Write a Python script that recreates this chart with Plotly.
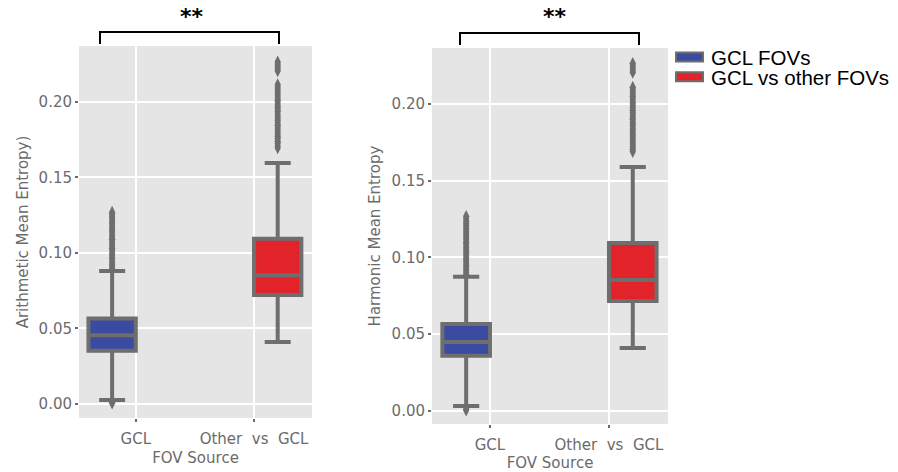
import plotly.graph_objects as go

# ---------------- data ----------------
categories = ["GCL", "Other\u00a0\u00a0vs\u00a0\u00a0GCL"]
series_names = ["GCL FOVs", "GCL vs other FOVs"]

# Left panel: Arithmetic mean entropy
arith_gcl_stats = dict(lowerfence=0.0026, q1=0.0353, median=0.0455, q3=0.0565, upperfence=0.0881)
arith_other_stats = dict(lowerfence=0.0411, q1=0.0722, median=0.0852, q3=0.1093, upperfence=0.1596)
arith_gcl_outliers = [0.0005, 0.0012, 0.0895, 0.091, 0.0925, 0.094, 0.0958, 0.097, 0.0987, 0.1, 0.1018,
                      0.103, 0.1045, 0.106, 0.1077, 0.109, 0.1105, 0.112, 0.1138, 0.115, 0.1165,
                      0.118, 0.1196, 0.121, 0.1226, 0.124, 0.1255, 0.127]
arith_other_outliers = [0.1695, 0.171, 0.1726, 0.174, 0.1757, 0.177, 0.1786, 0.18, 0.1815, 0.183,
                        0.1846, 0.186, 0.1876, 0.189, 0.1905, 0.192, 0.1937, 0.195, 0.1965, 0.198,
                        0.1996, 0.201, 0.2025, 0.204, 0.2056, 0.207, 0.2085, 0.21, 0.2115,
                        0.2205, 0.222, 0.2235, 0.225, 0.2265]

# Right panel: Harmonic mean entropy
harm_gcl_stats = dict(lowerfence=0.0033, q1=0.0359, median=0.045, q3=0.0567, upperfence=0.0874)
harm_other_stats = dict(lowerfence=0.041, q1=0.0717, median=0.0854, q3=0.1095, upperfence=0.159)
harm_gcl_outliers = [0.0005, 0.0012, 0.089, 0.0905, 0.092, 0.0936, 0.095, 0.0966, 0.098, 0.0995,
                     0.101, 0.1026, 0.104, 0.1055, 0.107, 0.1086, 0.11, 0.1115, 0.113, 0.1146,
                     0.116, 0.1175, 0.119, 0.1206, 0.122, 0.1235, 0.125, 0.1268]
harm_other_outliers = [0.169, 0.1706, 0.172, 0.1736, 0.175, 0.1765, 0.178, 0.1796, 0.181, 0.1825,
                       0.184, 0.1856, 0.187, 0.1885, 0.19, 0.1916, 0.193, 0.1945, 0.196, 0.1976,
                       0.199, 0.2005, 0.202, 0.2036, 0.205, 0.2065, 0.208, 0.2096, 0.211,
                       0.2205, 0.222, 0.2235, 0.225, 0.2265]

y_tick_vals = [0.0, 0.05, 0.10, 0.15, 0.20]
y_tick_text = ["0.00", "0.05", "0.10", "0.15", "0.20"]
y_titles = ["Arithmetic Mean Entropy)", "Harmonic Mean Entropy"]
x_title = "FOV Source"
signif_label = "**"

# ---------------- style ----------------
OFF = 8                      # page body margin of the html page
W, H = 898 - OFF, 472 - OFF  # figure size so that it fills the window
BLUE = "#3B4BA2"
RED = "#E2242A"
GRAY = "#6E6E6E"
TXT = "#6B6B6B"
BG = "#E5E5E5"


def px(x):
    return (x - OFF) / W


def py(y):
    return 1 - (y - OFF) / H


fig = go.Figure()

panels = [
    ("x", "y", arith_gcl_stats, arith_other_stats, arith_gcl_outliers, arith_other_outliers),
    ("x2", "y2", harm_gcl_stats, harm_other_stats, harm_gcl_outliers, harm_other_outliers),
]
colors = [BLUE, RED]

for xa, ya, s_gcl, s_oth, o_gcl, o_oth in panels:
    for cat, stats, outs, color, name, grp in [
        (categories[0], s_gcl, o_gcl, colors[0], series_names[0], "a"),
        (categories[1], s_oth, o_oth, colors[1], series_names[1], "b"),
    ]:
        fig.add_trace(go.Box(
            x=[cat], q1=[stats["q1"]], median=[stats["median"]], q3=[stats["q3"]],
            lowerfence=[stats["lowerfence"]], upperfence=[stats["upperfence"]],
            name=name, legendgroup=name, showlegend=False, offsetgroup=grp,
            fillcolor=color, line=dict(color=GRAY, width=4), whiskerwidth=0.55,
            xaxis=xa, yaxis=ya, hoverinfo="skip",
        ))
        fig.add_trace(go.Scatter(
            x=[cat] * len(outs), y=outs, mode="markers", offsetgroup=grp,
            marker=dict(symbol="diamond-tall", size=9, color=GRAY, line=dict(width=0)),
            showlegend=False, legendgroup=name, xaxis=xa, yaxis=ya, hoverinfo="skip",
        ))

tickfont = dict(family="DejaVu Sans", size=15, color=TXT)
titlefont = dict(family="DejaVu Sans", size=15, color=TXT)

xcommon = dict(type="category", categoryorder="array", categoryarray=categories,
               showgrid=True, gridcolor="white", gridwidth=2, zeroline=False, showline=False,
               ticks="outside", ticklen=3, tickwidth=2, tickcolor=TXT, tickfont=tickfont,
               ticklabelstandoff=4,
               title=dict(text=x_title, font=titlefont, standoff=5))
ycommon = dict(showgrid=True, gridcolor="white", gridwidth=2, zeroline=False, showline=False,
               ticks="outside", ticklen=3, tickwidth=2, tickcolor=TXT, tickfont=tickfont,
               tickvals=y_tick_vals, ticktext=y_tick_text)

fig.update_layout(
    width=W, height=H, margin=dict(l=0, r=0, t=0, b=0),
    paper_bgcolor="white", plot_bgcolor=BG,
    boxmode="group", boxgap=0.2, boxgroupgap=0.0,
    scattermode="group", scattergap=0.2,
    xaxis=dict(domain=[px(79), px(312)], anchor="y", range=[-0.48, 1.49], **xcommon),
    yaxis=dict(domain=[py(418), py(46)], anchor="x", range=[-0.0093, 0.237],
               title=dict(text=y_titles[0], font=titlefont, standoff=6), **ycommon),
    xaxis2=dict(domain=[px(432), px(668)], anchor="y2", range=[-0.487, 1.496], **xcommon),
    yaxis2=dict(domain=[py(424), py(48)], anchor="x2", range=[-0.0085, 0.2365],
                title=dict(text=y_titles[1], font=titlefont, standoff=7), **ycommon),
    showlegend=False,
)

# legend (drawn as keys + labels)
for i, (name, color) in enumerate(zip(series_names, colors)):
    yc = 57 + 19.7 * i
    fig.add_shape(type="rect", xref="paper", yref="paper",
                  x0=px(676), x1=px(703), y0=py(yc + 4.5), y1=py(yc - 4.5),
                  fillcolor=color, line=dict(color=GRAY, width=2))
    fig.add_annotation(x=px(709), y=py(yc + 0.5), xref="paper", yref="paper", text=name,
                       showarrow=False, xanchor="left", yanchor="middle",
                       font=dict(family="Liberation Sans", size=20.5, color="black"))

# significance brackets
for (x1, x2, ytop, ylow, xs) in [(100, 279, 32, 44, 192), (460, 639, 33, 45, 555)]:
    fig.add_shape(type="path", xref="paper", yref="paper",
                  path=f"M{px(x1)},{py(ylow)} L{px(x1)},{py(ytop)} L{px(x2)},{py(ytop)} L{px(x2)},{py(ylow)}",
                  line=dict(color="black", width=2))
    fig.add_annotation(x=px(xs), y=py(17), xref="paper", yref="paper", text=f"<b>{signif_label}</b>",
                       showarrow=False, xanchor="center", yanchor="middle",
                       font=dict(family="DejaVu Sans", size=22, color="black"))

fig.write_html("out.html")
